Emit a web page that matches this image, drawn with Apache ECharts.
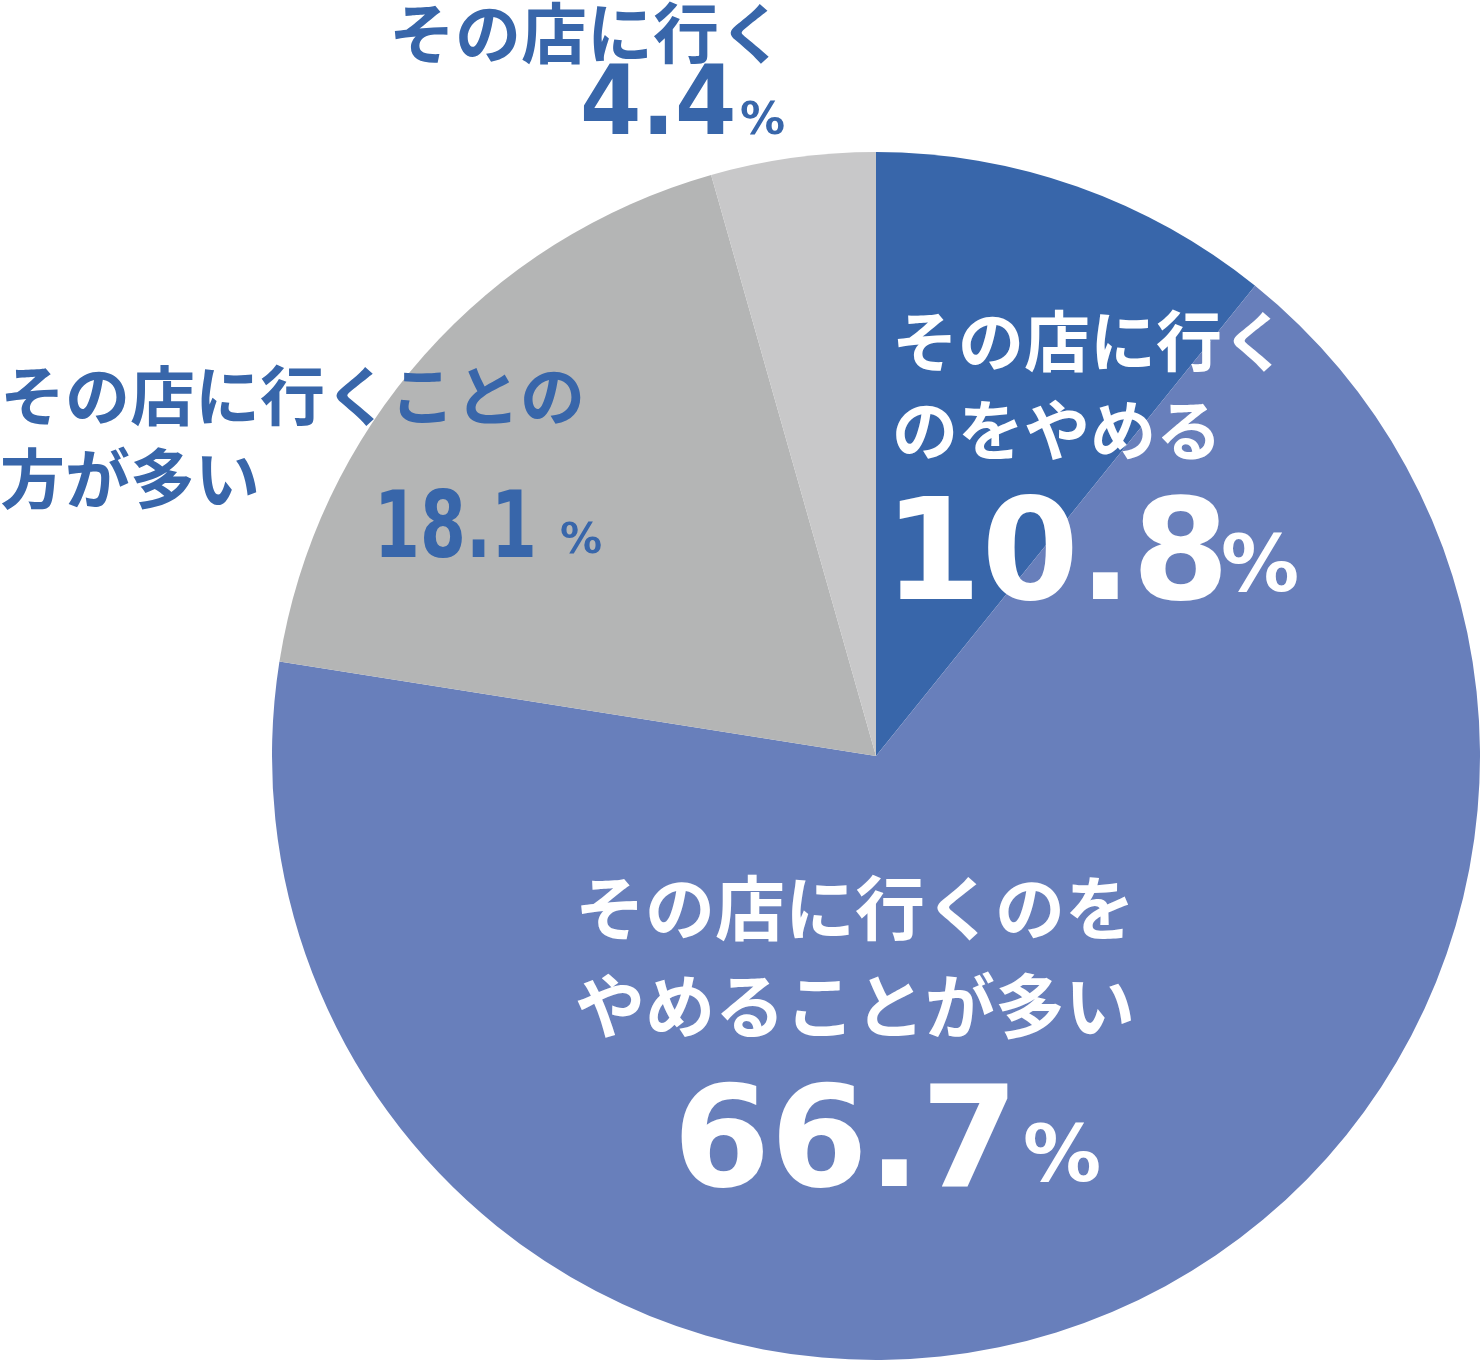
<!DOCTYPE html>
<html><head><meta charset="utf-8">
<script src="https://cdn.jsdelivr.net/npm/echarts@6/dist/echarts.min.js"></script>
<style>html,body{margin:0;padding:0;background:#fff}#c{width:1480px;height:1361px}</style>
</head><body><div id="c"></div>
<script>
// ---- data ----
const categories = ['その店に行くのをやめる', 'その店に行くのをやめることが多い', 'その店に行くことの方が多い', 'その店に行く'];
const labelLines = [['その店に行く', 'のをやめる'], ['その店に行くのを', 'やめることが多い'], ['その店に行くことの', '方が多い'], ['その店に行く']];
const values = [10.8, 66.7, 18.1, 4.4];
const unit = '%';

// ---- styles ----
const colors = ['#3866AA', '#687FBB', '#B4B5B5', '#C8C8C9'];
const textColors = ['#FFFFFF', '#FFFFFF', '#3866AA', '#3866AA'];
const JP = '"Noto Sans CJK JP", sans-serif';
const NUM = '"DejaVu Sans", sans-serif';
// label layout (positions only)
const layout = [
  { x: 892, ys: [341, 430], size: 66, nx: 884, ny: 563, ns: 140, nsx: 1, px: 1221, py: 571, ps: 78 },
  { x: 575, ys: [908, 1006], size: 70, nx: 673, ny: 1150, ns: 140, nsx: 1, px: 1023, py: 1161, ps: 78 },
  { x: 0, ys: [395, 478], size: 65, nx: 374, ny: 533, ns: 93, nsx: 0.71, px: 560, py: 542, ps: 42 },
  { x: 389, ys: [33], size: 66, nx: 580, ny: 109, ns: 97, nsx: 0.91, px: 740, py: 122, ps: 45 }
];

const graphics = [];
values.forEach((v, i) => {
  const L = layout[i];
  labelLines[i].forEach((line, k) => {
    graphics.push({ type: 'text', x: L.x, y: L.ys[k], silent: true, z: 100,
      style: { text: line, fill: textColors[i], font: 'bold ' + L.size + 'px ' + JP, align: 'left', verticalAlign: 'middle' } });
  });
  graphics.push({ type: 'text', x: L.nx, y: L.ny, scaleX: L.nsx, silent: true, z: 100,
    style: { text: v.toFixed(1), fill: textColors[i], font: 'bold ' + L.ns + 'px ' + NUM, align: 'left', verticalAlign: 'middle' } });
  graphics.push({ type: 'text', x: L.px, y: L.py, silent: true, z: 100,
    style: { text: unit, fill: textColors[i], font: 'bold ' + L.ps + 'px ' + NUM, align: 'left', verticalAlign: 'middle' } });
});

const chart = echarts.init(document.getElementById('c'), null, { renderer: 'canvas' });
chart.setOption({
  animation: false,
  series: [{
    type: 'pie',
    center: [876, 756],
    radius: 604,
    startAngle: 90,
    clockwise: true,
    silent: true,
    z: 1,
    label: { show: false },
    labelLine: { show: false },
    itemStyle: { borderWidth: 0 },
    data: categories.map((c, i) => ({ name: c, value: values[i], itemStyle: { color: colors[i] } }))
  }],
  graphic: { elements: graphics }
});
</script>
</body></html>
